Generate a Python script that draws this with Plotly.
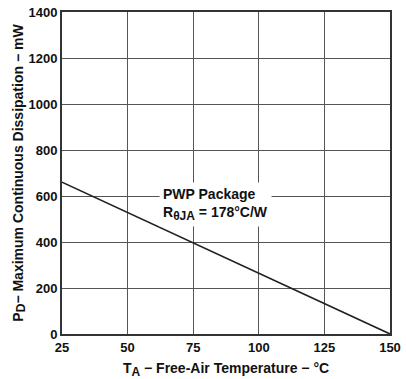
import plotly.graph_objects as go

temp_c = [25, 150]
power_mw = [660, 0]
x_ticks = [25, 50, 75, 100, 125, 150]
y_ticks = [0, 200, 400, 600, 800, 1000, 1200, 1400]

font_family = "Liberation Sans, Arial, sans-serif"
ink = "#111111"

fig = go.Figure()
fig.add_trace(go.Scatter(x=temp_c, y=power_mw, mode="lines",
                         line=dict(color="#222222", width=1.6),
                         showlegend=False, hoverinfo="skip"))

fig.add_annotation(x=61.8, y=563, xref="x", yref="y", xanchor="left", yanchor="middle",
                   text="<b>PWP Package</b><br><b>R<sub><span style='font-size:12px'>θJA</span></sub> = 178°C/W</b>",
                   showarrow=False, align="left", bgcolor="white", borderpad=3,
                   font=dict(family=font_family, size=14, color=ink))

axis_common = dict(showgrid=True, gridcolor="#555555", gridwidth=1,
                   showline=True, linecolor="#333333", linewidth=2, mirror=True,
                   ticks="", zeroline=False, ticklabeloverflow="allow",
                   tickfont=dict(family=font_family, size=13, color=ink))

fig.update_xaxes(range=[25, 150], tickvals=x_ticks, ticktext=[f"<b>{v}</b>" for v in x_ticks],
                 title=dict(text="<b>T<sub><span style='font-size:12px'>A</span></sub> − Free-Air Temperature − °C</b>",
                            font=dict(family=font_family, size=14, color=ink), standoff=10),
                 **axis_common)
fig.update_yaxes(range=[0, 1400], tickvals=y_ticks, ticktext=[f"<b>{v}</b>" for v in y_ticks],
                 title=dict(text="<b>P<sub><span style='font-size:12px'>D</span></sub>− Maximum Continuous Dissipation − mW</b>",
                            font=dict(family=font_family, size=14, color=ink), standoff=1),
                 **axis_common)

fig.update_layout(width=406, height=379, margin=dict(l=62, r=10, t=5, b=45),
                  plot_bgcolor="white", paper_bgcolor="white",
                  font=dict(family=font_family))

fig.write_html("out.html", config={"displayModeBar": False},
               post_script="document.body.style.margin='0';document.body.style.overflow='hidden';")
